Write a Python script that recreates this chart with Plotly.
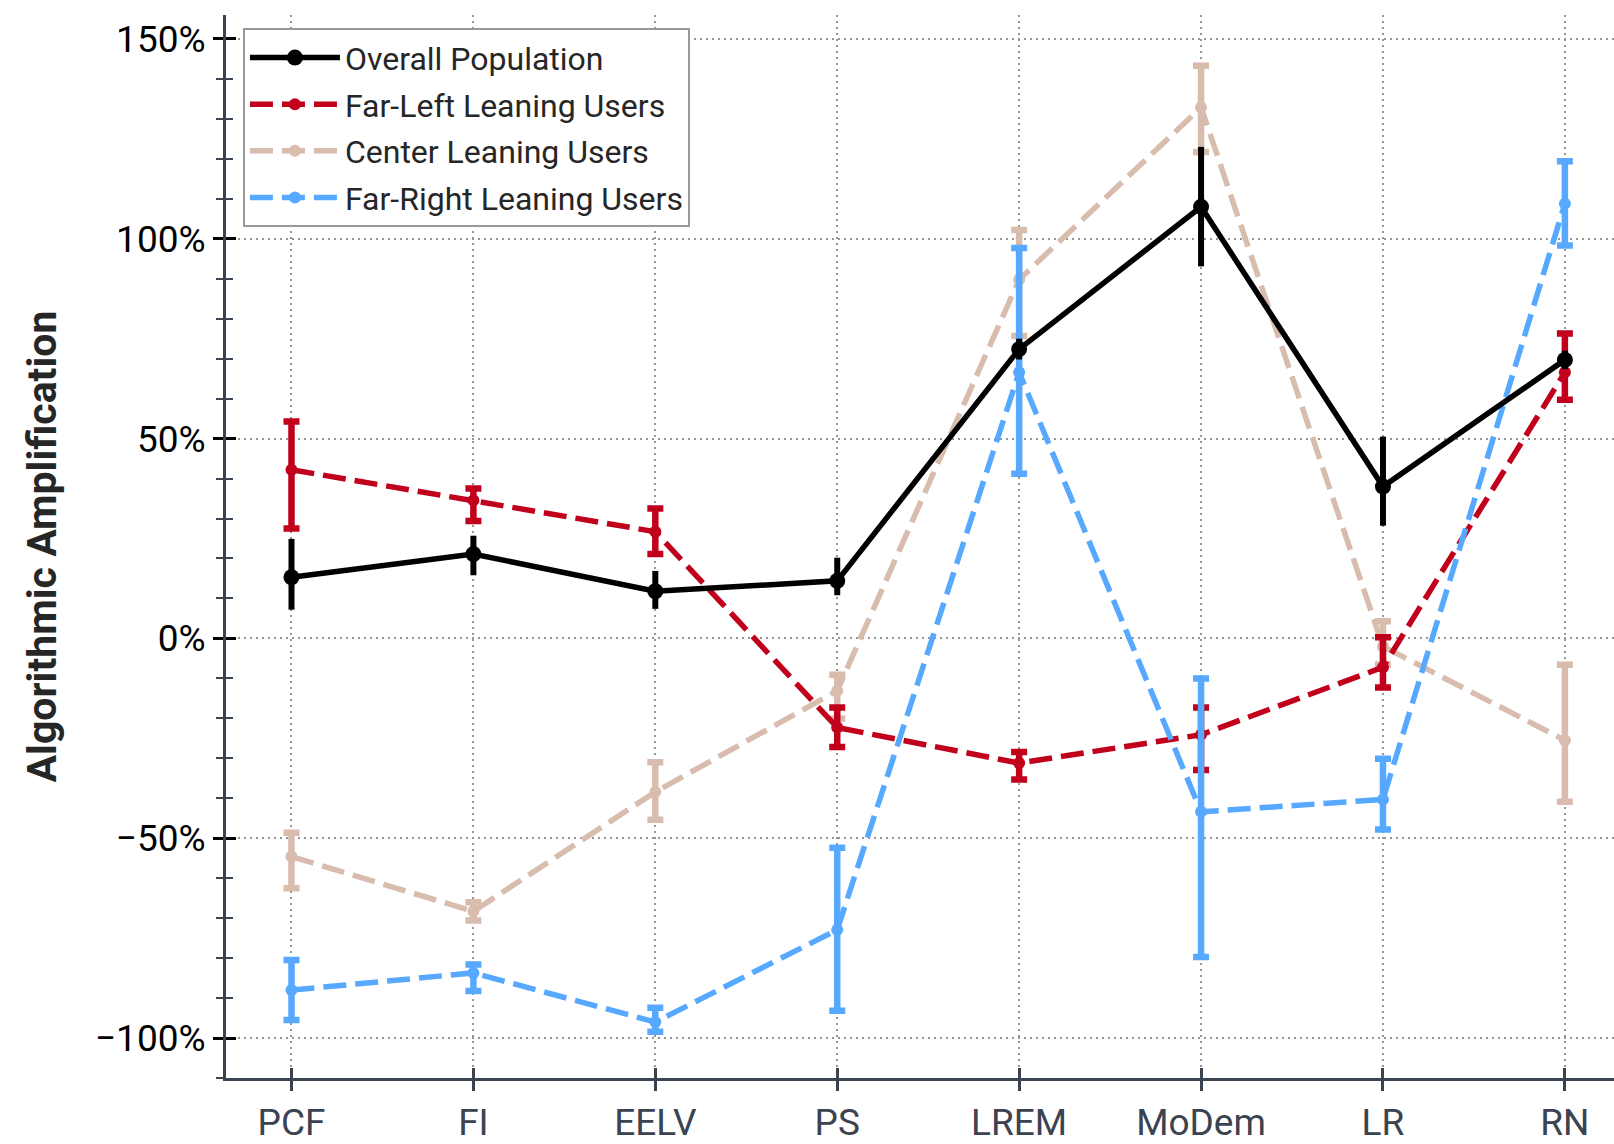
import plotly.graph_objects as go

categories = ["PCF", "FI", "EELV", "PS", "LREM", "MoDem", "LR", "RN"]

overall = [15.3, 21.1, 11.8, 14.4, 72.4, 108.0, 38.0, 69.7]
overall_hi = [24.9, 25.7, 16.9, 20.2, 75.0, 123.0, 50.5, 72.0]
overall_lo = [7.2, 15.8, 7.4, 10.8, 69.8, 93.1, 28.2, 67.4]

far_left = [42.2, 34.6, 26.7, -22.3, -31.2, -24.1, -7.2, 66.6]
far_left_hi = [54.3, 37.5, 32.5, -17.3, -28.4, -17.3, 0.3, 76.3]
far_left_lo = [27.5, 29.4, 21.1, -27.2, -35.3, -32.9, -12.3, 59.7]

center = [-54.6, -68.3, -38.4, -13.1, 89.8, 132.9, -2.0, -25.5]
center_hi = [-48.6, -66.0, -31.0, -9.1, 102.2, 143.3, 4.3, -6.6]
center_lo = [-62.5, -70.6, -45.4, -20.1, 75.7, 121.7, -6.5, -40.9]

far_right = [-88.0, -83.7, -96.0, -72.9, 66.6, -43.4, -40.3, 108.8]
far_right_hi = [-80.5, -81.6, -92.4, -52.4, 97.7, -10.0, -30.1, 119.4]
far_right_lo = [-95.5, -88.2, -98.4, -93.2, 41.2, -79.7, -47.8, 98.3]

names = ["Overall Population", "Far-Left Leaning Users",
         "Center Leaning Users", "Far-Right Leaning Users"]

y_ticks = [-100, -50, 0, 50, 100, 150]
y_tick_text = ["\u2212100%", "\u221250%", "0%", "50%", "100%", "150%"]

RED = "#c1001c"
TAN = "#d8bcad"
BLUE = "#57a8ff"
AXIS = "#3b4250"
GRID = "#959595"
FONT = "Roboto"

xs = list(range(len(categories)))
DASH = "23px,9px"
GRID_DASH = "2px,4px"


def errs(v, hi, lo):
    return [h - a for a, h in zip(v, hi)], [a - l for a, l in zip(v, lo)]


fig = go.Figure()

series = [
    (center, center_hi, center_lo, TAN, names[2], 3),
    (far_left, far_left_hi, far_left_lo, RED, names[1], 2),
    (far_right, far_right_hi, far_right_lo, BLUE, names[3], 4),
]
for vals, hi, lo, col, nm, rank in series:
    p, m = errs(vals, hi, lo)
    fig.add_trace(go.Scatter(
        x=xs, y=vals, name=nm, mode="lines+markers", legendrank=rank,
        legendgroup=nm,
        line=dict(color=col, width=5.5, dash=DASH),
        marker=dict(color=col, size=12, symbol="circle"),
        error_y=dict(type="data", symmetric=False, array=p, arrayminus=m,
                     color=col, thickness=6.5, width=8),
    ))

p, m = errs(overall, overall_hi, overall_lo)
fig.add_trace(go.Scatter(
    x=xs, y=overall, name=names[0], mode="lines+markers", legendrank=1,
    legendgroup=names[0],
    line=dict(color="black", width=5.5),
    marker=dict(color="black", size=16, symbol="circle"),
    error_y=dict(type="data", symmetric=False, array=p, arrayminus=m,
                 color="black", thickness=6, width=0),
))

# helper trace so the overlaid axes (inner half of the ticks) are drawn
fig.add_trace(go.Scatter(x=[None], y=[None], xaxis="x2", yaxis="y2",
                         showlegend=False, hoverinfo="skip"))

XR = [-0.36, 7.27]
YR = [-110, 156]

fig.update_layout(
    width=1614, height=1144,
    margin=dict(l=226, r=0, t=15, b=61),
    paper_bgcolor="white", plot_bgcolor="white",
    font=dict(family=FONT, size=37, color="black"),
    showlegend=True,
    legend=dict(
        x=0.0122, y=0.9875, xanchor="left", yanchor="top",
        bgcolor="white", bordercolor="#999999", borderwidth=2,
        font=dict(family=FONT, size=32, color="#262626"),
        itemwidth=90, traceorder="grouped", tracegroupgap=2,
    ),
    xaxis=dict(
        range=XR, tickvals=xs, ticktext=categories,
        showline=True, linecolor=AXIS, linewidth=3,
        ticks="outside", ticklen=10, tickwidth=2.5, tickcolor=AXIS,
        tickfont=dict(family=FONT, size=37, color=AXIS),
        showgrid=True, gridcolor=GRID, gridwidth=2, griddash=GRID_DASH,
        zeroline=False, mirror=False,
    ),
    yaxis=dict(
        range=YR, tickvals=y_ticks, ticktext=y_tick_text,
        showline=True, linecolor=AXIS, linewidth=3,
        ticks="outside", ticklen=10, tickwidth=2.5, tickcolor="black",
        minor=dict(tick0=0, dtick=10, ticks="outside", ticklen=7,
                   tickwidth=1.5, tickcolor=AXIS, showgrid=False),
        tickfont=dict(family=FONT, size=37, color="black"),
        showgrid=True, gridcolor=GRID, gridwidth=2, griddash=GRID_DASH,
        zeroline=False,
        title=dict(text="<b>Algorithmic Amplification</b>",
                   font=dict(family=FONT, size=41, color="#262626"),
                   standoff=26),
    ),
    xaxis2=dict(
        range=XR, overlaying="x", anchor="y", side="bottom",
        tickvals=xs, ticks="inside", ticklen=10, tickwidth=2.5,
        tickcolor=AXIS, showticklabels=False, showgrid=False,
        showline=False, zeroline=False,
    ),
    yaxis2=dict(
        range=YR, overlaying="y", anchor="x", side="left",
        tickvals=y_ticks, ticks="inside", ticklen=10, tickwidth=2.5,
        tickcolor="black", showticklabels=False, showgrid=False,
        showline=False, zeroline=False,
        minor=dict(tick0=0, dtick=10, ticks="inside", ticklen=7,
                   tickwidth=1.5, tickcolor=AXIS, showgrid=False),
    ),
)

fig.write_html("out.html")
